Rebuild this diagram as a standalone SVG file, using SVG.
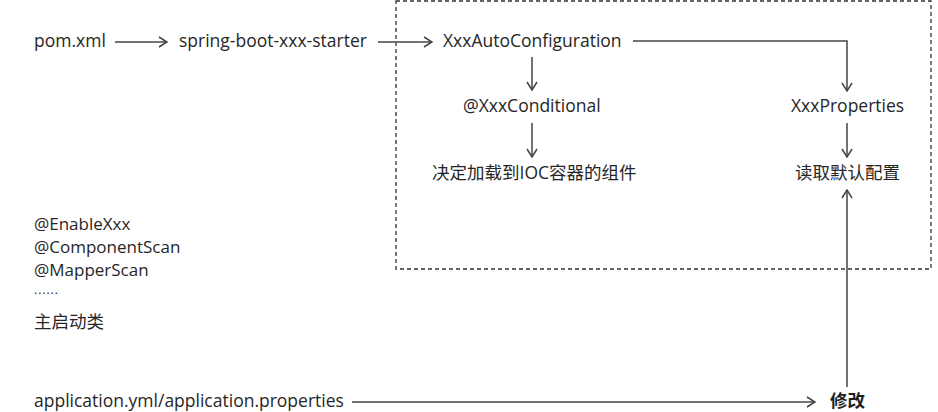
<svg xmlns="http://www.w3.org/2000/svg" width="938" height="412" viewBox="0 0 938 412">
  <style>
    .t { font-family: "Open Sans", "Noto Sans CJK SC", sans-serif; font-size: 17.5px; fill: #262626; }
    .s { font-size: 17px; }
    .b { font-weight: bold; fill: #1e1e1e; }
    .dots { font-size: 12px; letter-spacing: 1px; }
    .ln { fill: none; stroke: #444; stroke-width: 1.5; }
    .box { fill: none; stroke: #333; stroke-width: 1.3; stroke-dasharray: 4 3; }
  </style>
  <defs>
    <marker id="arr" viewBox="-9 -6 10 12" refX="0" refY="0" markerWidth="10" markerHeight="12" markerUnits="userSpaceOnUse" orient="auto">
      <path d="M-8,-5 L0,0 L-8,5" fill="none" stroke="#444" stroke-width="1.5"/>
    </marker>
  </defs>
  <rect width="938" height="412" fill="#fff"/>

  <rect id="boundary" class="box" x="396" y="1" width="535" height="268"/>

  <g id="connectors">
    <line class="ln" x1="115" y1="42" x2="167" y2="42" marker-end="url(#arr)"/>
    <line class="ln" x1="378" y1="42" x2="432" y2="42" marker-end="url(#arr)"/>
    <polyline class="ln" points="633,41 847,41 847,91" marker-end="url(#arr)"/>
    <line class="ln" x1="532" y1="57" x2="532" y2="90" marker-end="url(#arr)"/>
    <line class="ln" x1="532" y1="123" x2="532" y2="157" marker-end="url(#arr)"/>
    <line class="ln" x1="847" y1="123" x2="847" y2="157" marker-end="url(#arr)"/>
    <line class="ln" x1="847" y1="387" x2="847" y2="190" marker-end="url(#arr)"/>
    <line class="ln" x1="352" y1="402" x2="815" y2="402" marker-end="url(#arr)"/>
  </g>

  <g id="pom"><text class="t" x="34" y="47">pom.xml</text></g>
  <g id="starter"><text class="t" x="179" y="47">spring-boot-xxx-starter</text></g>
  <g id="autoconfig"><text class="t" x="443" y="47">XxxAutoConfiguration</text></g>
  <g id="conditional"><text class="t" x="463" y="112">@XxxConditional</text></g>
  <g id="properties"><text class="t" x="791" y="112">XxxProperties</text></g>
  <g id="ioc"><text class="t" x="432" y="179">决定加载到IOC容器的组件</text></g>
  <g id="defaults"><text class="t" x="795" y="179">读取默认配置</text></g>
  <g id="mainclass">
    <text class="t s" x="34" y="230">@EnableXxx</text>
    <text class="t s" x="34" y="253">@ComponentScan</text>
    <text class="t s" x="34" y="276">@MapperScan</text>
    <text class="t dots" x="34" y="294">......</text>
    <text class="t" x="34" y="328">主启动类</text>
  </g>
  <g id="appconfig"><text class="t" x="34" y="407">application.yml/application.properties</text></g>
  <g id="modify"><text class="t b" x="830" y="407">修改</text></g>
</svg>
